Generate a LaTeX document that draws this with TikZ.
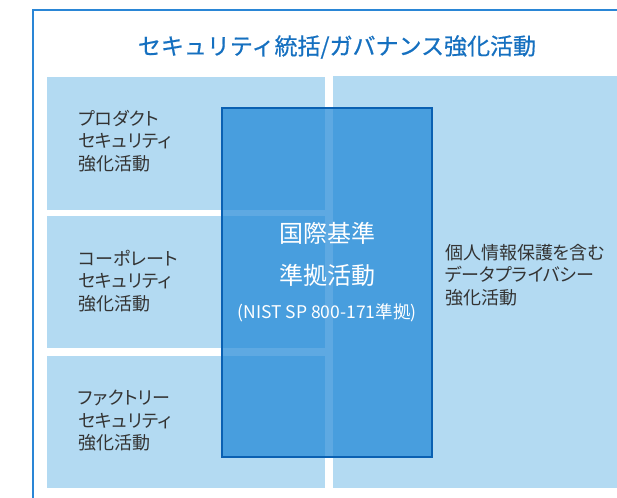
\documentclass[tikz,border=0pt]{standalone}
\usepackage{fontspec}
\setmainfont{Noto Sans CJK JP}[RawFeature=+palt]
\newfontfamily\titlefont{Noto Sans CJK JP}[FakeBold=0.6]
\definecolor{framecol}{HTML}{2A86D6}
\definecolor{titlecol}{HTML}{1570C0}
\definecolor{lightbox}{HTML}{B3DAF2}
\definecolor{overlay}{HTML}{1B85D6}
\definecolor{overlayedge}{HTML}{0A60B2}
\definecolor{labelcol}{HTML}{333333}
\tikzset{
  lbox/.style={fill=lightbox, draw=none, inner sep=0pt, outer sep=0pt, anchor=north west},
  label/.style={text=labelcol, font=\fontsize{18}{22.5}\selectfont, align=left, inner sep=0pt, anchor=west},
  centertext/.style={text=white, inner sep=0pt},
}
\begin{document}
\begin{tikzpicture}[x=1pt,y=-1pt]
\useasboundingbox (0,0) rectangle (617,497);
\clip (0,0) rectangle (617,497);
\fill[white] (0,0) rectangle (617,497);
\draw[framecol, line width=2pt] (33,10) rectangle (700,600);
\node[text=titlecol, font=\titlefont\fontsize{23}{26}\selectfont, inner sep=0pt] (title) at (337,47) {セキュリティ統括/ガバナンス強化活動};
\node[lbox, minimum width=278pt, minimum height=133pt] (row1) at (47,77) {};
\node[lbox, minimum width=278pt, minimum height=132pt] (row2) at (47,216) {};
\node[lbox, minimum width=278pt, minimum height=132pt] (row3) at (47,356) {};
\node[lbox, minimum width=300pt, minimum height=412pt] (rightbox) at (333,76) {};
\node[fill=overlay, fill opacity=0.7, draw=overlayedge, draw opacity=1, line width=2pt, inner sep=0pt, outer sep=0pt, minimum width=210pt, minimum height=349pt, anchor=north west] (std) at (222,108) {};
\node[label] (l1) at (78,141) {プロダクト\\セキュリティ\\強化活動};
\node[label] (l2) at (78,281) {コーポレート\\セキュリティ\\強化活動};
\node[label] (l3) at (78,421) {ファクトリー\\セキュリティ\\強化活動};
\node[label] (l4) at (445,275) {個人情報保護を含む\\データプライバシー\\強化活動};
\node[centertext, font=\fontsize{24}{26}\selectfont] (c1) at (327,233) {国際基準};
\node[centertext, font=\fontsize{24}{26}\selectfont] (c2) at (327,275) {準拠活動};
\node[centertext, font=\fontsize{17.5}{20}\selectfont] (c3) at (327,313) {(NIST SP 800-171準拠)};
\end{tikzpicture}
\end{document}
